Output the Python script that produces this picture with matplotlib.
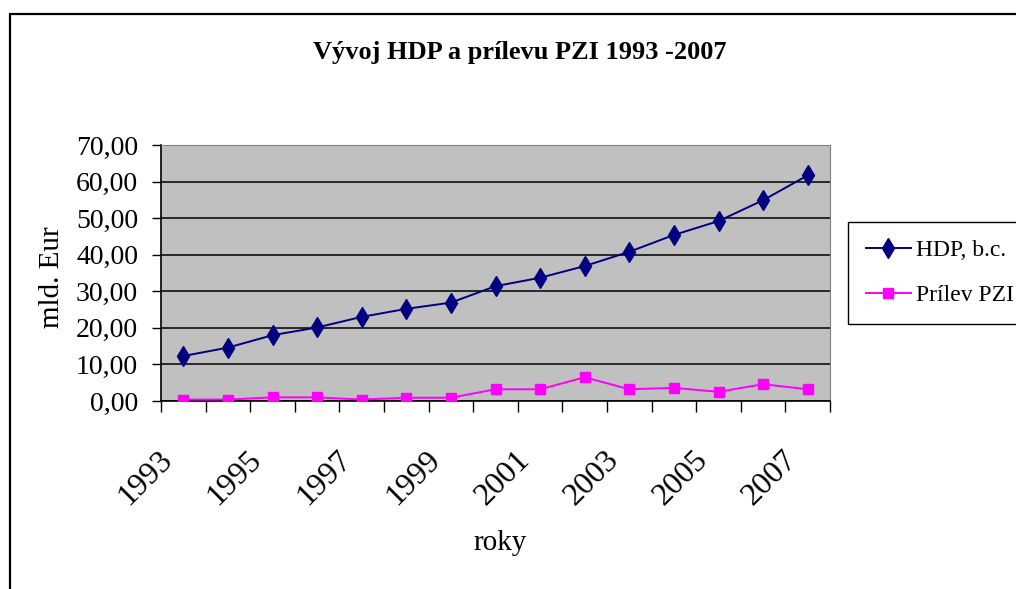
import numpy as np
import matplotlib
matplotlib.use("Agg")
import matplotlib.pyplot as plt
from matplotlib.patches import Rectangle
from matplotlib.transforms import ScaledTranslation

# Data (mld. Eur)
years = list(range(1993, 2008))
hdp_bc = [12.3, 14.6, 18.0, 20.1, 23.0, 25.2, 26.9, 31.4, 33.7, 36.9, 40.8, 45.4, 49.2, 54.9, 61.7]
prilev_pzi = [0.4, 0.4, 1.0, 1.0, 0.4, 0.9, 0.9, 3.2, 3.2, 6.5, 3.2, 3.6, 2.5, 4.6, 3.2]
y_ticks = [0, 10, 20, 30, 40, 50, 60, 70]
label_years = years[::2]

W, H = 1016, 589
plt.rcParams["font.family"] = ["Liberation Serif", "DejaVu Serif"]

fig = plt.figure(figsize=(W / 100, H / 100), dpi=100)

# outer chart border (cut by the image edges on the right/bottom)
fig.patches.append(Rectangle((10 / W, -0.1), 1.2, 1 - 14 / H + 0.1, transform=fig.transFigure,
                             fill=False, edgecolor="black", linewidth=1.6))

ax = fig.add_axes([161 / W, (H - 401) / H, 669 / W, 256 / H])
ax.set_facecolor("#c0c0c0")

x = np.arange(len(years))
ax.plot(x, hdp_bc, color="#000080", linewidth=1.4, marker="d", markersize=10,
        markerfacecolor="#000080", markeredgecolor="#000080", label="HDP, b.c.", zorder=3)
ax.plot(x, prilev_pzi, color="#ff00ff", linewidth=1.4, marker="s", markersize=7.5,
        markerfacecolor="#ff00ff", markeredgecolor="#ff00ff", label="Prílev PZI", zorder=3)

ax.set_xlim(-0.5, len(years) - 0.5)
ax.set_ylim(0, 70)

# y osa
ax.set_yticks(y_ticks)
ax.set_yticklabels([f"{v:.2f}".replace(".", ",") for v in y_ticks], fontsize=20)
ax.yaxis.grid(True, color="black", linewidth=1.1)
ax.set_axisbelow(True)
ax.tick_params(axis="y", direction="out", length=6.5, width=1, pad=10)

# x osa: ciarky medzi kategoriami, popisy kazdy druhy rok
ax.set_xticks(np.arange(-0.5, len(years), 1.0))
ax.set_xticklabels([])
ax.tick_params(axis="x", which="major", direction="out", length=8, width=1)
ax.set_xticks([years.index(y) for y in label_years], minor=True)
ax.set_xticklabels([str(y) for y in label_years], minor=True, fontsize=23,
                   rotation=45, ha="right", va="center", rotation_mode="anchor")
ax.tick_params(axis="x", which="minor", length=0, pad=39)
shift = ScaledTranslation(-15 / 100, 0, fig.dpi_scale_trans)
for lab in ax.get_xticklabels(minor=True):
    lab.set_transform(lab.get_transform() + shift)

for side in ("top", "right"):
    ax.spines[side].set_color("#808080")
for side in ("left", "bottom"):
    ax.spines[side].set_color("black")
    ax.spines[side].set_linewidth(1.2)

fig.text(520 / W, 1 - 52 / H, "Vývoj HDP a prílevu PZI 1993 -2007", ha="center", va="center",
         fontsize=19, fontweight="bold")
fig.text(500 / W, 1 - 543 / H, "roky", ha="center", va="center", fontsize=21)
fig.text(52 / W, 1 - 277 / H, "mld. Eur", ha="center", va="center", rotation=90, fontsize=21)

leg = fig.legend(loc="upper left", bbox_to_anchor=(848 / W, 1 - 222 / H), fontsize=17,
                 frameon=True, fancybox=False, shadow=False, borderpad=0.75,
                 labelspacing=1.0, handlelength=1.9, handletextpad=0.25, borderaxespad=0)
leg.get_frame().set_edgecolor("black")
leg.get_frame().set_linewidth(1.0)
leg.get_frame().set_alpha(1)

fig.savefig("out.png", dpi=100)
